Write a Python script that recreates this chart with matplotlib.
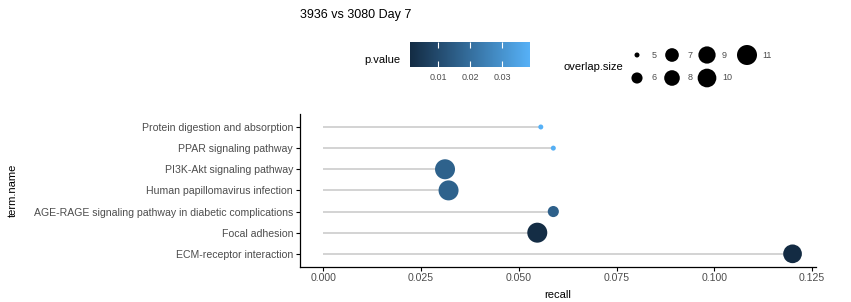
import numpy as np
import matplotlib
matplotlib.use("Agg")
import matplotlib.pyplot as plt
from matplotlib.colors import LinearSegmentedColormap, Normalize

plt.rcParams['font.family'] = ['Liberation Sans', 'DejaVu Sans']

terms = ["Protein digestion and absorption", "PPAR signaling pathway",
         "PI3K-Akt signaling pathway", "Human papillomavirus infection",
         "AGE-RAGE signaling pathway in diabetic complications",
         "Focal adhesion", "ECM-receptor interaction"]
recall = [0.0556, 0.0588, 0.0311, 0.0320, 0.0588, 0.0547, 0.1200]
overlap_size = [5, 5, 11, 11, 6, 11, 10]
p_value = [0.0387, 0.0380, 0.0165, 0.0165, 0.0160, 0.0016, 0.00116]
size_breaks = [5, 6, 7, 8, 9, 10, 11]
p_ticks = [0.01, 0.02, 0.03]
x_ticks = [0.000, 0.025, 0.050, 0.075, 0.100, 0.125]

W, H = 851, 302
fig = plt.figure(figsize=(W / 100, H / 100), dpi=100)

cmap = LinearSegmentedColormap.from_list("gg", ["#132B43", "#56B1F7"])
norm = Normalize(vmin=min(p_value), vmax=max(p_value))

smin, smax = min(size_breaks), max(size_breaks)
def size_to_s(v):
    v = np.asarray(v, dtype=float)
    gsize = 1 + 5 * np.sqrt((v - smin) / (smax - smin))
    diam_px = 3.0 * gsize + 2.0
    return (diam_px * 0.72) ** 2

ax = fig.add_axes([300 / W, 1 - 266.5 / H, 516 / W, 152.2 / H])
n = len(terms)
ypos = np.arange(n)[::-1]
ax.hlines(ypos, 0, recall, color="#D3D3D3", lw=1.4, zorder=1)
ax.scatter(recall, ypos, s=size_to_s(overlap_size), c=p_value, cmap=cmap,
           norm=norm, linewidths=0, zorder=2)
ax.set_ylim(-0.6, n - 1 + 0.6)
ax.set_xlim(-0.006, 0.126)
ax.set_yticks(ypos)
ax.set_yticklabels(terms)
ax.set_xticks(x_ticks)
ax.set_xticklabels(["0.000", "0.025", "0.050", "0.075", "0.100", "0.125"])
for s in ["top", "right"]:
    ax.spines[s].set_visible(False)
for s in ["left", "bottom"]:
    ax.spines[s].set_linewidth(0.9)
ax.tick_params(axis="both", labelsize=7.6, labelcolor="#4D4D4D", length=3,
               width=0.8, pad=2)
ax.set_xlabel("recall", fontsize=8, labelpad=5)
ax.set_ylabel("term.name", fontsize=8)
ax.yaxis.label.set_verticalalignment("center")
ax.yaxis.set_label_coords(-(300 - 13) / 516, 0.5)

fig.text(300 / W, 1 - 15 / H, "3936 vs 3080 Day 7", fontsize=9, va="center",
         ha="left")

# colorbar legend
cax = fig.add_axes([410 / W, 1 - 67 / H, 120 / W, 25 / H])
sm = plt.cm.ScalarMappable(norm=norm, cmap=cmap)
cb = fig.colorbar(sm, cax=cax, orientation="horizontal")
cb.outline.set_visible(False)
cb.set_ticks(p_ticks)
cb.set_ticklabels(["0.01", "0.02", "0.03"])
cax.tick_params(axis="x", direction="in", color="white", length=4, width=0.8,
                top=True, bottom=True, labelsize=6.5, labelcolor="#4D4D4D",
                pad=4)
fig.text(400 / W, 1 - 60 / H, "p.value", fontsize=8, ha="right", va="center")

# size legend
lax = fig.add_axes([0, 0, 1, 1])
lax.set_xlim(0, W)
lax.set_ylim(H, 0)
lax.axis("off")
kx = [637, 637, 672, 672, 707, 707, 747]
ky = [55, 78, 55, 78, 55, 78, 55]
lx = [652, 652, 688, 688, 722, 722, 762]
lax.scatter(kx, ky, s=size_to_s(size_breaks), c="black", linewidths=0)
for b, x, y in zip(size_breaks, lx, ky):
    lax.text(x, y, str(b), fontsize=6.5, color="#4D4D4D", va="center",
             ha="left")
lax.text(563, 67, "overlap.size", fontsize=8, va="center", ha="left")

fig.savefig("out.png", dpi=100)
